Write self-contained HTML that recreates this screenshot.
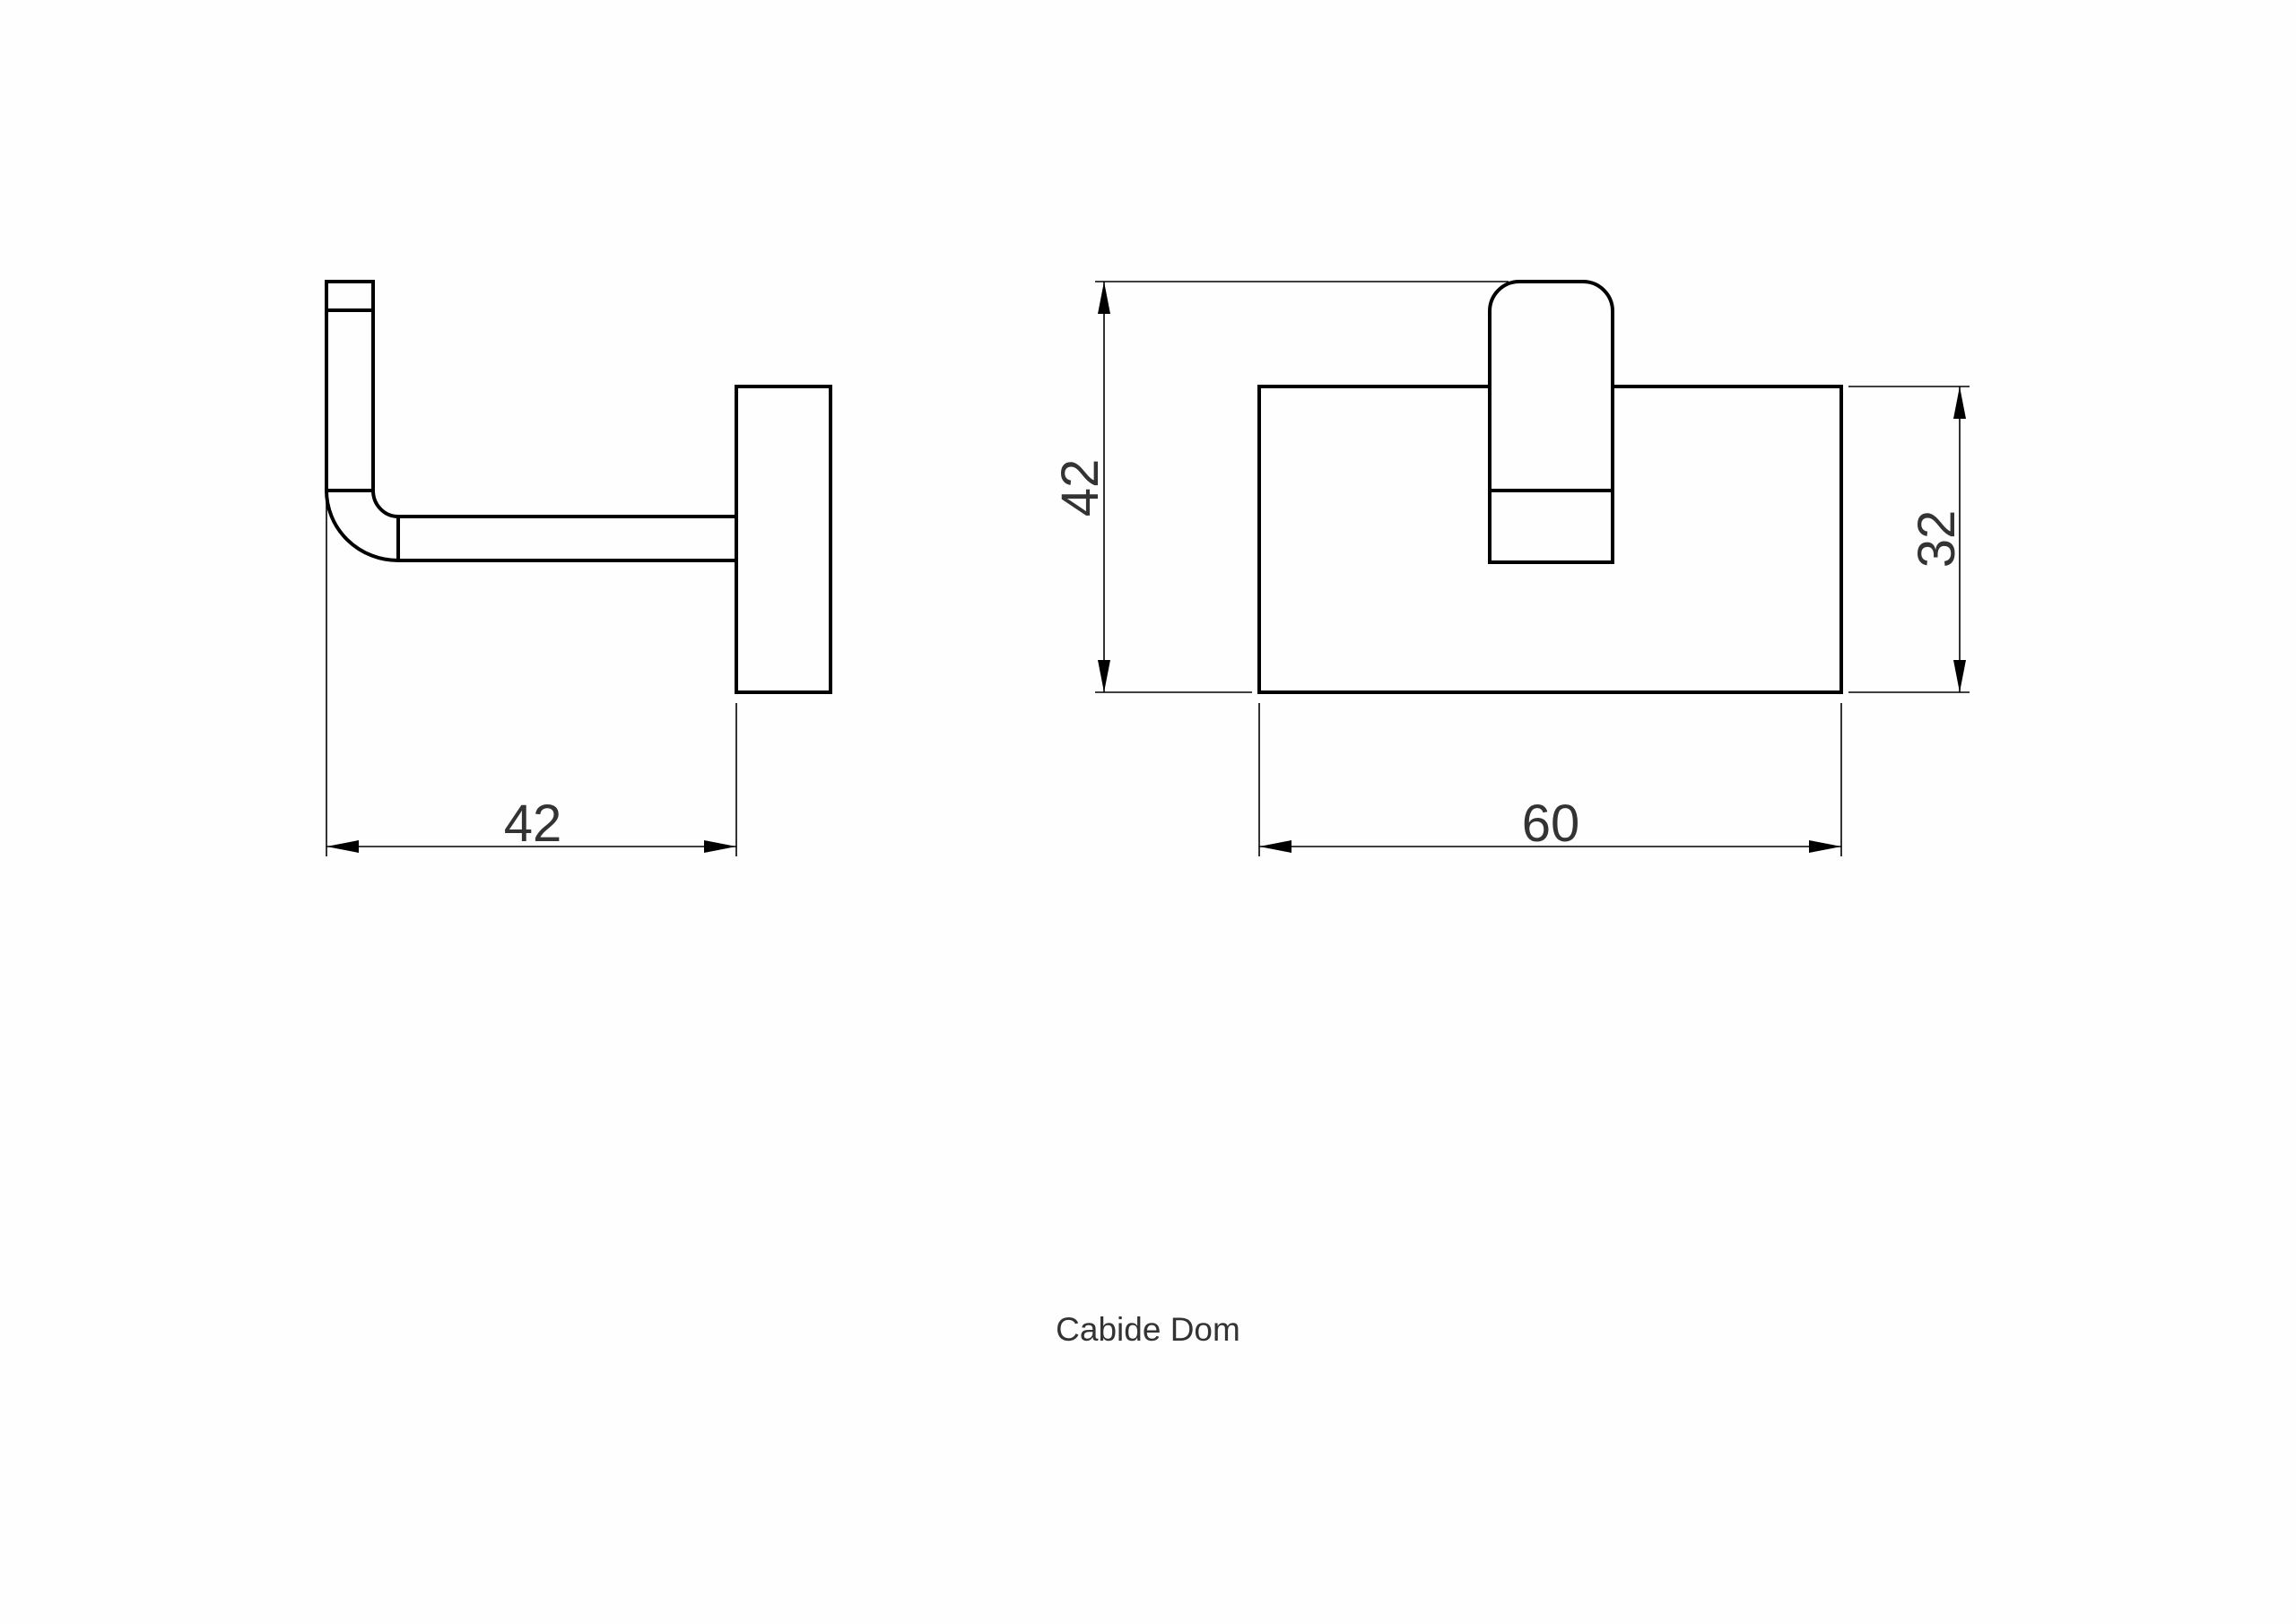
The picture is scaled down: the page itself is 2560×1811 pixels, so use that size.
<!DOCTYPE html>
<html><head><meta charset="utf-8"><style>html,body{margin:0;padding:0;background:#fefefe}svg{display:block}</style></head>
<body>
<svg width="2560" height="1811" viewBox="0 0 2560 1811" xmlns="http://www.w3.org/2000/svg">
<rect width="2560" height="1811" fill="#fefefe"/>
<g fill="none" stroke="#000" stroke-width="4" stroke-linejoin="miter">
  <!-- side view -->
  <rect x="364" y="314" width="52" height="233"/>
  <line x1="364" y1="346" x2="416" y2="346"/>
  <path d="M364 547 A80 78 0 0 0 444 625"/>
  <path d="M416 547 A28 29 0 0 0 444 576"/>
  <line x1="444" y1="576" x2="444" y2="625"/>
  <line x1="444" y1="576" x2="821" y2="576"/>
  <line x1="444" y1="625" x2="821" y2="625"/>
  <rect x="821" y="431" width="105" height="341"/>
  <!-- front view -->
  <path d="M1661 431 H1404 V772 H2053 V431 H1798"/>
  <path d="M1661 627 V347 A33 33 0 0 1 1694 314 H1765 A33 33 0 0 1 1798 347 V627 Z" fill="#fefefe"/>
  <line x1="1661" y1="547" x2="1798" y2="547"/>
</g>
<g stroke="#000" stroke-width="1.6" fill="none">
  <line x1="364" y1="555" x2="364" y2="955"/>
  <line x1="821" y1="784" x2="821" y2="955"/>
  <line x1="364" y1="944" x2="821" y2="944"/>
  <line x1="1404" y1="784" x2="1404" y2="955"/>
  <line x1="2053" y1="784" x2="2053" y2="955"/>
  <line x1="1404" y1="944" x2="2053" y2="944"/>
  <line x1="1221" y1="314" x2="1682" y2="314"/>
  <line x1="1221" y1="772" x2="1396" y2="772"/>
  <line x1="1231" y1="314" x2="1231" y2="772"/>
  <line x1="2061" y1="431" x2="2196" y2="431"/>
  <line x1="2061" y1="772" x2="2196" y2="772"/>
  <line x1="2185" y1="431" x2="2185" y2="772"/>
</g>
<g fill="#000">
  <polygon points="364,944 400,937 400,951"/>
  <polygon points="821,944 785,937 785,951"/>
  <polygon points="1404,944 1440,937 1440,951"/>
  <polygon points="2053,944 2017,937 2017,951"/>
  <polygon points="1231,314 1224,350 1238,350"/>
  <polygon points="1231,772 1224,736 1238,736"/>
  <polygon points="2185,431 2178,467 2192,467"/>
  <polygon points="2185,772 2178,736 2192,736"/>
</g>
<g font-family="Liberation Sans, sans-serif" fill="#333" font-size="58" text-anchor="middle">
  <text x="594" y="938">42</text>
  <text x="1729" y="938">60</text>
  <text transform="translate(1224,544) rotate(-90)">42</text>
  <text transform="translate(2179,601) rotate(-90)">32</text>
</g>
<text x="1280" y="1495" font-family="Liberation Sans, sans-serif" font-size="37" fill="#333" text-anchor="middle">Cabide Dom</text>
</svg>
</body></html>
